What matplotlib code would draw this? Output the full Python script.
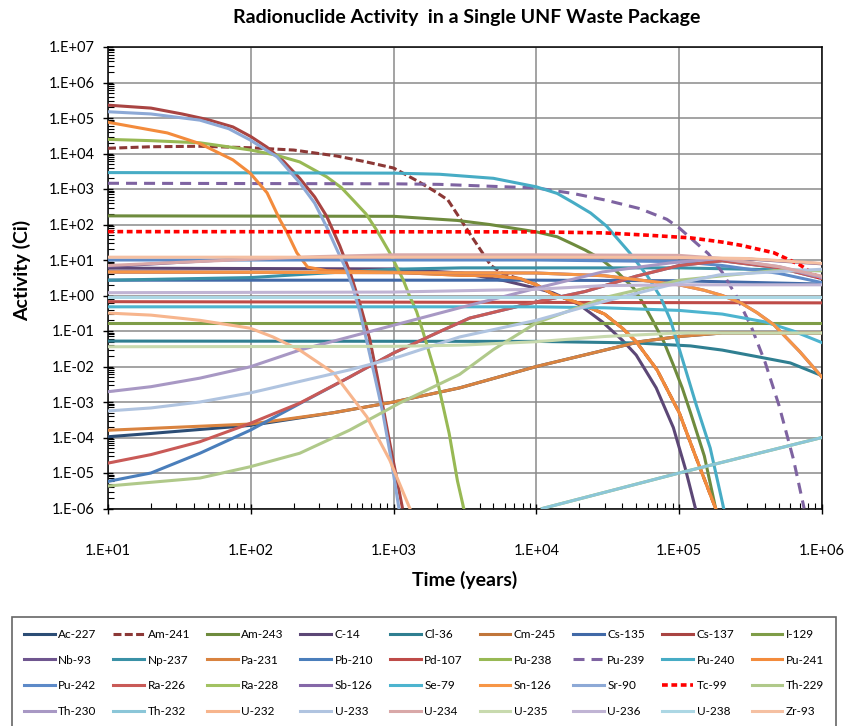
import numpy as np
import matplotlib
matplotlib.use("Agg")
import matplotlib.pyplot as plt
from matplotlib.ticker import FixedLocator, LogLocator, FuncFormatter, NullFormatter

plt.rcParams["font.family"] = ["Lato", "DejaVu Sans"]

# ---- data: time (years) / activity (Ci) ----
ac227_t = [10, 20, 100, 380, 1000, 2900, 1e4, 5.3e4, 1e5, 2e5, 1e6]
ac227_a = [1.05e-4, 1.3e-4, 2.2e-4, 5e-4, 1e-3, 2.5e-3, 0.01, 0.05, 0.07, 0.088, 0.088]
am241_t = [10, 20, 44, 100, 200, 400, 630, 1000, 1500, 2000, 2400, 2800, 3600, 4800, 5800, 1e4, 1.3e4,
           2e4, 3e4, 4e4, 5e4, 7e4, 1e5, 1.3e5, 1.8e5]
am241_a = [1.4e4, 1.55e4, 1.6e4, 1.45e4, 1.25e4, 8.5e3, 5.9e3, 3.9e3, 1.6e3, 800, 490, 190, 40, 7, 4.2, 2.0, 1.1,
           0.6, 0.3, 0.12, 0.05, 8e-3, 5e-4, 3e-5, 1e-6]
am243_t = [10, 1000, 2800, 4700, 1e4, 1.4e4, 1.8e4, 2.2e4, 2.8e4, 3.7e4, 4.8e4, 5.6e4, 6.6e4, 7.8e4,
           9.1e4, 1.05e5, 1.2e5, 1.5e5, 1.8e5]
am243_a = [175, 170, 130, 100, 62, 45, 28, 19, 11, 4.5, 1.6, 0.6, 0.18, 0.05, 0.011, 2.5e-3, 5e-4,
           3e-5, 1e-6]
c14_t = [10, 1000, 3000, 6000, 1e4, 1.3e4, 2e4, 2.9e4, 4e4, 5e4, 6.9e4, 9.1e4, 1.1e5, 1.3e5]
c14_a = [5.9, 5.6, 4.3, 2.6, 1.6, 1.2, 0.55, 0.18, 0.055, 0.021, 2.5e-3, 1.9e-4, 1.4e-5, 1e-6]
cl36_t = [10, 1e4, 5e4, 1.2e5, 2e5, 3.5e5, 6e5, 1e6]
cl36_a = [0.052, 0.051, 0.046, 0.038, 0.029, 0.019, 0.0126, 5.5e-3]
cm245_t = [10, 1000, 3000, 5000, 7700, 1e4, 1.3e4, 2e4, 3e4, 4e4, 5e4, 7e4, 1e5, 1.3e5, 1.8e5]
cm245_a = [4.6, 4.5, 3.7, 3.6, 3.0, 2.0, 1.1, 0.6, 0.3, 0.12, 0.05, 8e-3, 5e-4, 3e-5, 1e-6]
cs135_t = [10, 1e4, 1e5, 1e6]
cs135_a = [2.7, 2.7, 2.6, 2.1]
cs137_t = [10, 20, 33, 50, 75, 100, 130, 170, 220, 280, 340, 420, 500, 580, 680, 770, 940, 1150]
cs137_a = [2.3e5, 1.9e5, 1.3e5, 9e4, 5.6e4, 3e4, 1.5e4, 6e3, 2e3, 600, 170, 25, 4, 0.6, 0.06, 5e-3,
           7e-5, 1.1e-6]
i129_t = [10, 1e6]
i129_a = [0.165, 0.165]
nb93_t = [10, 30, 100, 300, 1e4, 1e5, 3e5, 1e6]
nb93_a = [6.5, 8.5, 11, 11.5, 11.7, 11.5, 10.7, 7.8]
np237_t = [10, 100, 300, 1000, 3000, 1e5, 1e6]
np237_a = [2.7, 3.2, 4.2, 5.5, 6.0, 6.0, 5.0]
pa231_t = [10, 100, 380, 1000, 2900, 1e4, 5.3e4, 1e5, 2e5, 1e6]
pa231_a = [1.6e-4, 2.4e-4, 5e-4, 1e-3, 2.5e-3, 0.01, 0.05, 0.07, 0.088, 0.088]
pb210_t = [10, 20, 44, 99, 220, 490, 1000, 2100, 3400, 1e4, 2.2e4, 5e4, 1e5, 2e5, 5e5, 1e6]
pb210_a = [5.8e-6, 1e-5, 3.6e-5, 1.6e-4, 9e-4, 5e-3, 0.024, 0.096, 0.23, 0.66, 1.3, 3.5, 7, 9.5, 6, 3]
pd107_t = [10, 1e6]
pd107_a = [0.67, 0.62]
pu238_t = [10, 20, 44, 99, 150, 220, 340, 430, 520, 640, 760, 940, 1170, 1290, 1450, 1600, 2000,
           2450, 2800, 3100]
pu238_a = [2.5e4, 2.3e4, 2e4, 1.26e4, 9e3, 5.8e3, 2.2e3, 1.1e3, 490, 200, 70, 16, 2.7, 1.0, 0.35, 0.1,
           5e-3, 1.3e-4, 6e-6, 1e-6]
pu239_t = [10, 1e3, 2.1e3, 1e4, 1.8e4, 3.1e4, 5.3e4, 8.2e4, 1e5, 1.26e5, 1.6e5, 2e5, 2.5e5, 3.2e5,
           4e5, 5e5, 6.3e5, 7.5e5]
pu239_a = [1.45e3, 1.4e3, 1.35e3, 1.07e3, 750, 480, 280, 140, 80, 35, 15, 4.5, 1.0, 0.13,
           0.013, 8e-4, 2.5e-5, 1e-6]
pu240_t = [10, 1e3, 2.1e3, 5e3, 1e4, 1.4e4, 1.8e4, 2.4e4, 3.1e4, 3.8e4, 4.5e4, 6e4, 7.4e4, 8.7e4,
           1.07e5, 1.32e5, 1.65e5, 2.05e5]
pu240_a = [2.9e3, 2.8e3, 2.6e3, 2.0e3, 1.15e3, 750, 420, 210, 90, 35, 16, 3.5, 0.9, 0.2,
           0.013, 8e-4, 5e-5, 1e-6]
pu241_t = [10, 26, 44, 75, 99, 130, 160, 180, 210, 250, 340, 1000, 3000, 5000, 7700, 1e4, 1.3e4,
           2e4, 3e4, 4e4, 5e4, 7e4, 1e5, 1.3e5, 1.8e5]
pu241_a = [7.6e4, 3.8e4, 1.9e4, 6.6e3, 2.8e3, 780, 135, 58, 16, 6.3, 5.0, 4.5, 3.7, 3.6, 3.0, 2.0, 1.1,
           0.6, 0.3, 0.12, 0.05, 8e-3, 5e-4, 3e-5, 1e-6]
pu242_t = [10, 1e4, 1e5, 2e5, 5e5, 1e6]
pu242_a = [10, 10, 9, 7, 4.2, 2.3]
ra226_t = [10, 20, 44, 99, 220, 490, 1000, 2100, 3400, 1e4, 2.2e4, 5e4, 1e5, 2e5, 5e5, 1e6]
ra226_a = [1.9e-5, 3.3e-5, 7.6e-5, 2.5e-4, 9.3e-4, 5e-3, 0.024, 0.096, 0.23, 0.66, 1.3, 3.5, 7, 9.5, 6, 3]
ra228_t = [1.1e4, 1e5, 1e6]
ra228_a = [1e-6, 1e-5, 1e-4]
sb126_t = [10, 1e4, 3e4, 1e5, 1.5e5, 2e5, 2.7e5, 3.5e5, 4.6e5, 7e5, 1e6]
sb126_a = [4.6, 4.3, 3.6, 2.0, 1.4, 1.0, 0.62, 0.33, 0.15, 0.026, 5e-3]
se79_t = [10, 1e4, 3e4, 1e5, 2e5, 4e5, 6.3e5, 1e6]
se79_a = [0.48, 0.48, 0.45, 0.38, 0.3, 0.18, 0.1, 0.047]
sn126_t = [10, 1e4, 3e4, 1e5, 1.5e5, 2e5, 2.7e5, 3.5e5, 4.6e5, 7e5, 1e6]
sn126_a = [4.6, 4.3, 3.6, 2.0, 1.4, 1.0, 0.62, 0.33, 0.15, 0.026, 5e-3]
sr90_t = [10, 20, 44, 70, 99, 153, 220, 280, 340, 400, 470, 520, 580, 650, 740, 840, 960, 1090]
sr90_a = [1.5e5, 1.3e5, 8.7e4, 5e4, 2.4e4, 8e3, 1.5e3, 400, 85, 20, 5, 1.6, 0.35, 0.05, 5e-3, 5e-4,
          2.5e-5, 1e-6]
tc99_t = [10, 1e4, 3e4, 6e4, 1.2e5, 2e5, 2.7e5, 4.6e5, 7e5, 1e6]
tc99_a = [63, 62, 58, 50, 42, 32, 26, 16, 7.3, 2.8]
th229_t = [10, 44, 99, 220, 490, 1100, 2900, 5000, 1e4, 3.1e4, 1e5, 4.6e5, 1e6]
th229_a = [4.3e-6, 7.2e-6, 1.5e-5, 3.6e-5, 1.6e-4, 9.3e-4, 6e-3, 0.03, 0.17, 0.9, 2.7, 5.0, 5.0]
th230_t = [10, 20, 44, 99, 220, 490, 2900, 1e4, 2.9e4, 8.7e4, 1.9e5, 5e5, 1e6]
th230_a = [1.95e-3, 2.7e-3, 4.7e-3, 9.8e-3, 0.029, 0.068, 0.45, 1.6, 4.6, 8.3, 11, 6.5, 3.2]
th232_t = [1.1e4, 1e5, 1e6]
th232_a = [1e-6, 1e-5, 1e-4]
u232_t = [10, 20, 44, 99, 143, 220, 380, 650, 940, 1300]
u232_a = [0.32, 0.28, 0.2, 0.12, 0.068, 0.029, 6.6e-3, 3.8e-4, 2.3e-5, 1e-6]
u233_t = [10, 20, 44, 99, 490, 1100, 2900, 1e4, 2.9e4, 8.7e4, 1.9e5, 1e6]
u233_a = [5.6e-4, 6.8e-4, 1e-3, 1.8e-3, 8e-3, 0.019, 0.068, 0.2, 0.66, 2.0, 3.8, 5.5]
u234_t = [10, 30, 100, 300, 1000, 1e4, 1e5, 2e5, 5e5, 1e6]
u234_a = [7, 8.5, 10.5, 12.5, 14, 14, 13.5, 11, 6.5, 3.5]
u235_t = [10, 1e3, 3e3, 1e4, 3e4, 1e5, 1e6]
u235_a = [0.036, 0.037, 0.04, 0.05, 0.07, 0.088, 0.088]
u236_t = [10, 1e3, 1e4, 3e4, 1e5, 1e6]
u236_a = [1.2, 1.25, 1.5, 1.9, 2.0, 2.0]
u238_t = [10, 1e6]
u238_a = [0.93, 0.93]
zr93_t = [10, 1e4, 1e5, 3e5, 1e6]
zr93_a = [12, 12, 11.8, 11, 8]

names = ["Ac-227", "Am-241", "Am-243", "C-14", "Cl-36", "Cm-245", "Cs-135", "Cs-137", "I-129",
         "Nb-93", "Np-237", "Pa-231", "Pb-210", "Pd-107", "Pu-238", "Pu-239", "Pu-240", "Pu-241",
         "Pu-242", "Ra-226", "Ra-228", "Sb-126", "Se-79", "Sn-126", "Sr-90", "Tc-99", "Th-229",
         "Th-230", "Th-232", "U-232", "U-233", "U-234", "U-235", "U-236", "U-238", "Zr-93"]
series = [(ac227_t, ac227_a), (am241_t, am241_a), (am243_t, am243_a), (c14_t, c14_a),
          (cl36_t, cl36_a), (cm245_t, cm245_a), (cs135_t, cs135_a), (cs137_t, cs137_a),
          (i129_t, i129_a), (nb93_t, nb93_a), (np237_t, np237_a), (pa231_t, pa231_a),
          (pb210_t, pb210_a), (pd107_t, pd107_a), (pu238_t, pu238_a), (pu239_t, pu239_a),
          (pu240_t, pu240_a), (pu241_t, pu241_a), (pu242_t, pu242_a), (ra226_t, ra226_a),
          (ra228_t, ra228_a), (sb126_t, sb126_a), (se79_t, se79_a), (sn126_t, sn126_a),
          (sr90_t, sr90_a), (tc99_t, tc99_a), (th229_t, th229_a), (th230_t, th230_a),
          (th232_t, th232_a), (u232_t, u232_a), (u233_t, u233_a), (u234_t, u234_a),
          (u235_t, u235_a), (u236_t, u236_a), (u238_t, u238_a), (zr93_t, zr93_a)]

COLORS = ["#2C4D75", "#8C3836", "#6E8B3D", "#5C4776", "#2F7F91", "#C1763A", "#4169A7", "#A94442",
          "#7F9D48", "#6F568F", "#3A91A6", "#D9833F", "#4A7EBB", "#BE4B48", "#98B954", "#7E63A1",
          "#47ACC5", "#F38B3C", "#5D8AC8", "#C95A57", "#A2C262", "#8568A8", "#4DB4CF", "#F79646",
          "#8DA9D6", "#FF0000", "#B0C98A", "#A898C4", "#8BC6D8", "#F7B58D", "#B0C4E0", "#D9A8A8",
          "#C8DAAE", "#C0B4D4", "#ACD7E4", "#F5C0A2"]
DASHES = {"Am-241": (2.6, 1.1), "Pu-239": (3.6, 2.3), "Tc-99": (1.6, 1.0)}

fig = plt.figure(figsize=(8.5, 7.26), dpi=100)
ax = fig.add_axes([108 / 850, 1 - 508.5 / 726, 714 / 850, 461.5 / 726])

handles = []
for i, (name, (t, a)) in enumerate(zip(names, series)):
    ln, = ax.plot(t, a, color=COLORS[i], lw=2.2, label=name, zorder=3 + i * 0.01)
    if name in DASHES:
        ln.set_dashes(DASHES[name])
        if name == "Tc-99":
            ln.set_linewidth(2.6)
    handles.append(ln)

ax.set_xscale("log")
ax.set_yscale("log")
ax.set_xlim(10, 1e6)
ax.set_ylim(1e-6, 1e7)

fmt = FuncFormatter(lambda v, p: "1.E%+03d" % int(round(np.log10(v))))
ax.xaxis.set_major_locator(FixedLocator([10.0 ** k for k in range(1, 7)]))
ax.yaxis.set_major_locator(FixedLocator([10.0 ** k for k in range(-6, 8)]))
ax.xaxis.set_major_formatter(fmt)
ax.yaxis.set_major_formatter(fmt)
ax.xaxis.set_minor_locator(LogLocator(base=10, subs=np.arange(2, 10), numticks=20))
ax.yaxis.set_minor_locator(LogLocator(base=10, subs=np.arange(2, 10), numticks=30))
ax.xaxis.set_minor_formatter(NullFormatter())
ax.yaxis.set_minor_formatter(NullFormatter())
ax.tick_params(which="major", direction="inout", length=7, width=1, labelsize=10.5, color="black")
ax.tick_params(axis="x", which="major", pad=22)
ax.tick_params(axis="y", which="major", pad=6)
ax.tick_params(which="minor", direction="in", length=4, width=0.8)
ax.grid(True, which="major", color="#8A8A8A", lw=1.1, zorder=1)
ax.set_axisbelow(True)
for s in ax.spines.values():
    s.set_linewidth(1.1)
    s.set_color("black")

fig.text(467 / 850, 1 - 17 / 726, "Radionuclide Activity  in a Single UNF Waste Package",
         ha="center", va="center", fontsize=14, fontweight="bold")
fig.text(22 / 850, 1 - 270 / 726, "Activity (Ci)", rotation=90, ha="center", va="center",
         fontsize=14, fontweight="bold")
fig.text(465 / 850, 1 - 580 / 726, "Time (years)", ha="center", va="center",
         fontsize=14, fontweight="bold")

# legend filled row by row like the original
order = [r * 9 + c for c in range(9) for r in range(4)]
leg = fig.legend([handles[k] for k in order], [names[k] for k in order], ncol=9,
                 loc="upper left", bbox_to_anchor=(12 / 850, 1 - 724 / 726, 824 / 850, 107 / 726),
                 mode="expand", fontsize=8.5, handlelength=2.6, handletextpad=0.3,
                 labelspacing=1.25, borderaxespad=0, borderpad=1.0, columnspacing=0.5,
                 frameon=True, fancybox=False, edgecolor="#404040")
leg.get_frame().set_linewidth(1.2)

fig.savefig("out.png", dpi=100)
